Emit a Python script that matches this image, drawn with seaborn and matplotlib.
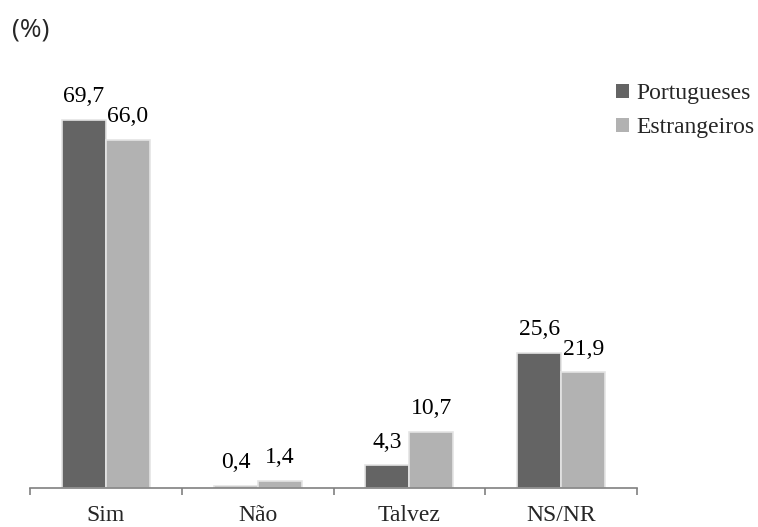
import matplotlib
matplotlib.use("Agg")
import matplotlib.pyplot as plt
import seaborn as sns
import pandas as pd
from matplotlib.patches import Patch

categories = ["Sim", "Não", "Talvez", "NS/NR"]
series_names = ["Portugueses", "Estrangeiros"]
portugueses = [69.7, 0.4, 4.3, 25.6]
estrangeiros = [66.0, 1.4, 10.7, 21.9]
colors = ["#646464", "#b2b2b2"]

df = pd.DataFrame({
    "cat": categories * 2,
    "serie": [series_names[0]] * 4 + [series_names[1]] * 4,
    "val": portugueses + estrangeiros,
})

sns.set_style("white")
plt.rcParams["font.family"] = ["Liberation Serif", "DejaVu Serif"]

W, H = 758, 527
fig = plt.figure(figsize=(W / 100, H / 100), dpi=100)
ax_left, ax_right, ax_bottom = 30, 637, 488
ax_top = ax_bottom - 80 * 5.28
ax = fig.add_axes([ax_left / W, 1 - ax_bottom / H, (ax_right - ax_left) / W, (ax_bottom - ax_top) / H])

sns.barplot(data=df, x="cat", y="val", hue="serie", order=categories,
            hue_order=series_names, palette=colors, width=0.58,
            edgecolor="#e4e4e4", linewidth=1.2, ax=ax, legend=False,
            errorbar=None, saturation=1)

for cont in ax.containers:
    labels = [f"{b.get_height():.1f}".replace(".", ",") for b in cont]
    ax.bar_label(cont, labels=labels, padding=9, fontsize=17, color="black")

ax.set_ylim(0, 80)
ax.set_xlim(-0.5, 3.5)
ax.set_yticks([])
ax.set_xlabel("")
ax.set_ylabel("")
for s in ["left", "top", "right"]:
    ax.spines[s].set_visible(False)
ax.spines["bottom"].set_color("#808080")
ax.spines["bottom"].set_linewidth(1.2)

ax.set_xticks([-0.5, 0.5, 1.5, 2.5, 3.5])
ax.set_xticklabels([])
ax.tick_params(axis="x", which="major", bottom=True, length=5, color="#808080",
               width=1.2, direction="out")
ax.set_xticks(range(len(categories)), minor=True)
ax.set_xticklabels(categories, minor=True, fontsize=17)
ax.tick_params(axis="x", which="minor", bottom=True, length=0, pad=12)

handles = [Patch(facecolor=c, edgecolor="none") for c in colors]
fig.legend(handles, series_names, loc="center left", bbox_to_anchor=(616 / W, 1 - 110.5 / H),
           frameon=False, fontsize=17, handlelength=0.55, handleheight=0.55,
           handletextpad=0.3, labelspacing=0.55, borderpad=0, borderaxespad=0)

fig.text(12 / W, 1 - 30 / H, "(%)", fontsize=19, family=["Open Sans", "DejaVu Sans"],
         va="center", ha="left")

fig.savefig("out.png", dpi=100)
